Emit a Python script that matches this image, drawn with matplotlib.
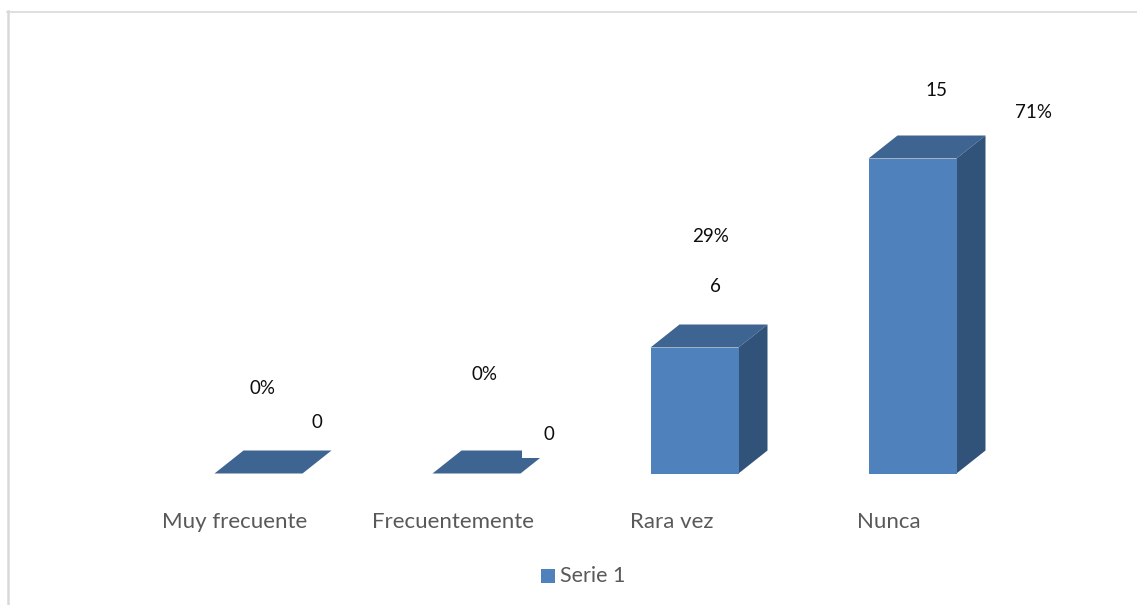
import matplotlib
matplotlib.use("Agg")
import matplotlib.pyplot as plt
from matplotlib.patches import Polygon, Rectangle

categories = ["Muy frecuente", "Frecuentemente", "Rara vez", "Nunca"]
values = [0, 0, 6, 15]
percents = ["0%", "0%", "29%", "71%"]

W, H = 1137, 605
front_color = "#4f81bd"
top_color = "#3e6491"
side_color = "#325379"

plt.rcParams['font.family'] = ['Lato', 'DejaVu Sans']

fig = plt.figure(figsize=(W / 100, H / 100), dpi=100)

# whole-figure pixel axes for the frame, texts and legend, kept above the bars
bg = fig.add_axes([0, 0, 1, 1], zorder=2)
bg.set_xlim(0, W)
bg.set_ylim(H, 0)
bg.axis("off")
bg.plot([7.5, 7.5], [H, 11], color="#d9d9d9", lw=1.8)
bg.plot([7, W], [11.5, 11.5], color="#d9d9d9", lw=1.2)

# plot axes: y=0 sits at pixel 473.5, y=15 at pixel 158.5, categories 218 px apart
ax = fig.add_axes([258.5 / W, (H - 473.5) / H, 654 / W, 315 / H], zorder=1)
ax.set_xlim(0, 3)
ax.set_ylim(0, 15)
ax.axis("off")

bar_w = 88 / 218
dx = 29 / 218
dy = 23 / 21

for i, v in enumerate(values):
    x0 = i - bar_w / 2
    x1 = i + bar_w / 2
    ax.add_patch(Polygon([(x0, v), (x0 + dx, v + dy), (x1 + dx, v + dy), (x1, v)],
                         fc=top_color, ec="none", clip_on=False))
    ax.add_patch(Polygon([(x1, 0), (x1 + dx, dy), (x1 + dx, v + dy), (x1, v)],
                         fc=side_color, ec="none", clip_on=False))
    ax.add_patch(Rectangle((x0, 0), bar_w, v, fc=front_color, ec="none", clip_on=False))

# white label box clips the second bar's top face
bg.add_patch(Rectangle((522, 408), 54, 50, fc="white", ec="none", zorder=5))

text_c = "#0d0d0d"
value_pos = [(317, 423), (549, 434), (715, 286), (936, 90)]
percent_pos = [(262, 389), (485, 374), (711, 236), (1034, 112)]
for s, (x, y) in zip(values, value_pos):
    bg.text(x, y, str(s), ha="center", va="center", fontsize=13.5, color=text_c, zorder=6)
for s, (x, y) in zip(percents, percent_pos):
    bg.text(x, y, s, ha="center", va="center", fontsize=13.5, color=text_c, zorder=6)

cat_x = [235, 453, 672, 889]
for s, x in zip(categories, cat_x):
    bg.text(x, 522, s, ha="center", va="center", fontsize=16, color="#595959", zorder=6)

# legend
bg.add_patch(Rectangle((541, 569), 14, 14, fc=front_color, ec="none"))
bg.text(560, 576, "Serie 1", ha="left", va="center", fontsize=15.5, color="#595959")

fig.savefig("out.png", dpi=100, facecolor="white")
